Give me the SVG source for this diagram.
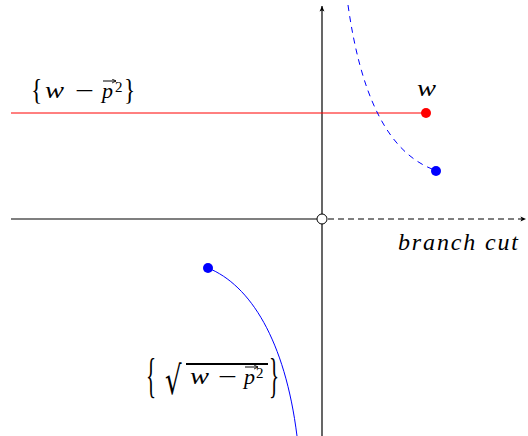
<svg xmlns="http://www.w3.org/2000/svg" width="528" height="436" viewBox="0 0 528 436">
<defs>
<marker id="arr" viewBox="0 0 10 10" refX="9" refY="5" markerWidth="7" markerHeight="7" orient="auto" markerUnits="userSpaceOnUse">
<path d="M1,1.5 L9,5 L1,8.5 L3,5 Z" fill="#000"/>
</marker>
<marker id="va" viewBox="0 0 6 6" refX="5" refY="3" markerWidth="5" markerHeight="5" orient="auto" markerUnits="userSpaceOnUse">
<path d="M0,0.5 L5,3 L0,5.5" fill="none" stroke="#000" stroke-width="1"/>
</marker>
<style>
.ax{stroke:#000;stroke-width:1.2;fill:none}
.m{font-family:"Liberation Serif","DejaVu Serif",serif;font-size:22px;fill:#000}
.i{font-style:italic}
.s{font-size:15px}
.w{font-size:23px}
.vec{stroke:#000;stroke-width:1;fill:none}
</style>
</defs>
<rect width="528" height="436" fill="#fff"/>
<g id="connectors">
<line class="ax" x1="11" y1="219" x2="317" y2="219"/>
<line class="ax" x1="328" y1="219" x2="526" y2="219" stroke-dasharray="6,4" marker-end="url(#arr)"/>
<line class="ax" x1="322" y1="436" x2="322" y2="6" marker-end="url(#arr)"/>
<line x1="11" y1="113" x2="426" y2="113" stroke="#f00" stroke-width="1"/>
<path d="M348,5 C360,90 385,150 432,169" stroke="#00f" stroke-width="1" fill="none" stroke-dasharray="6,5"/>
<path d="M208,268 C250,285 285,340 297,436" stroke="#00f" stroke-width="1" fill="none"/>
</g>
<g id="origin"><circle cx="322" cy="219" r="5" fill="#fff" stroke="#000" stroke-width="1"/></g>
<g id="w-point"><circle cx="426" cy="113" r="5" fill="#f00"/>
<text class="m i w" x="417" y="96" textLength="19" lengthAdjust="spacingAndGlyphs">w</text></g>
<g id="upper-end"><circle cx="436" cy="171" r="5" fill="#00f"/></g>
<g id="lower-end"><circle cx="208" cy="268" r="5" fill="#00f"/></g>
<g id="set-label">
<text class="m" transform="translate(31 99) scale(0.9 1.1)" style="font-size:26px">{</text>
<text class="m i w" x="45" y="98" textLength="19" lengthAdjust="spacingAndGlyphs">w</text>
<text class="m" x="75" y="98" textLength="19" lengthAdjust="spacingAndGlyphs">−</text>
<text class="m i" x="102" y="98">p</text>
<path class="vec" d="M103,81 H116" marker-end="url(#va)"/>
<text class="m s" x="115" y="92">2</text>
<text class="m" transform="translate(124 99) scale(0.9 1.1)" style="font-size:26px">}</text>
</g>
<g id="branch-label"><text class="m i" x="398" y="250" style="font-size:24px" textLength="120" lengthAdjust="spacing">branch cut</text></g>
<g id="sqrt-label">
<text class="m" transform="translate(146 392) scale(0.7 1.65)" style="font-size:30px">{</text>
<text transform="translate(165 394) scale(1 1.5)" style="font-family:'DejaVu Serif',serif;font-size:26px">√</text>
<line x1="186" y1="364" x2="268" y2="364" stroke="#000" stroke-width="2"/>
<text class="m i w" x="190" y="384" textLength="19" lengthAdjust="spacingAndGlyphs">w</text>
<text class="m" x="218" y="384" textLength="19" lengthAdjust="spacingAndGlyphs">−</text>
<text class="m i" x="244" y="384">p</text>
<path class="vec" d="M245,367 H258" marker-end="url(#va)"/>
<text class="m s" x="256" y="378">2</text>
<text class="m" transform="translate(269 392) scale(0.7 1.65)" style="font-size:30px">}</text>
</g>
</svg>
